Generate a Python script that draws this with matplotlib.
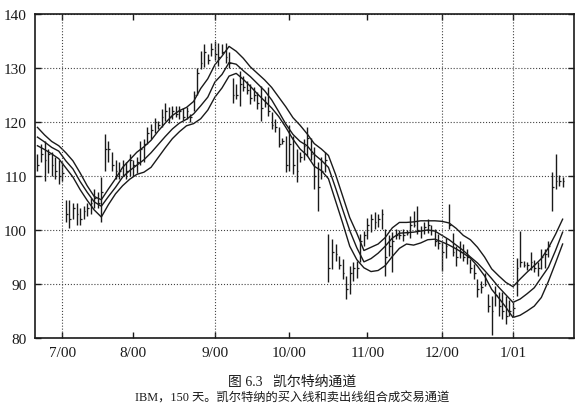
import matplotlib.pyplot as plt
import numpy as np

# daily bars, IBM, about 150 trading days
high = [114, 116, 116.5, 115, 114.5, 113.5, 113, 112.5,
        105.5, 105.5, 105, 105, 104, 104.5, 105, 106, 107.5, 107, 109.8,
        117.8, 116.5, 114.5, 113, 112.5, 113, 112.5, 114,
        113, 113.5, 116.5, 116.8, 119, 119.6, 120.8, 120.2, 122.4, 123.6, 122.7, 123, 123, 123, 122.5, 122.7, 121.5,
        125.8, 130, 133.2, 134.4, 132.6, 134.7, 135, 134.7, 134.4, 134.7, 132.9,
        128.2, 127, 129.5, 128.6, 127.6, 127, 126.4, 125.5, 126.7, 124.9, 126.4,
        121.8, 120.5, 119, 117.1, 117.4, 119.5, 117.4, 115, 114.4,
        116.8, 119, 117, 115.3, 112.5, 113.5, 114.4,
        99.3, 98.3, 97.4, 95.2, 94.6, 91.5, 93.4, 94, 94.3,
        99.3, 99.9, 102.3, 103, 103.3, 103, 103.9, 100.2, 99, 99.6,
        100.1, 100, 100.1, 100, 102.6, 103.5, 104.5, 100.8, 101.4, 102, 101, 100.1, 99.2,
        97.7, 98.6, 104.8, 99.5, 97.1, 98, 97.4, 96.4, 94.6, 93.7, 90.9, 90.6, 92.1,
        88.1, 87.8, 89.7, 88.5, 88.45, 87.8, 87, 86.6,
        94.9, 99.9, 94.3, 94, 95.9, 94.5, 94, 96.5, 96.5, 98,
        110.7, 114.1, 110.1, 109.75]
low = [111, 112.5, 109, 110.5, 110, 109.5, 108.5, 109,
       101.5, 100.3, 102, 101, 101, 102, 102.5, 103, 104, 104, 101.5,
       111, 112.5, 111, 109.5, 109.5, 110, 109.5, 110,
       110, 110.5, 112, 112.5, 115.9, 116.8, 118, 118.7, 119, 120.2, 119.9, 120.5, 120.9, 120.5, 120.3, 120.5, 120,
       122, 125, 129.8, 130.2, 130.7, 132.3, 131.5, 130.4, 132.5, 131, 130,
       123.6, 124.2, 123, 125.8, 125.2, 123.3, 123.9, 122.4, 120.2, 122.7, 121.2,
       118.7, 118.1, 115.3, 115.9, 110.7, 111, 110.3, 108.8, 112.5,
       113, 113.7, 113, 107.6, 103.6, 109.4, 110.7,
       90.3, 92.8, 94.3, 92.8, 90.9, 87.2, 88.1, 90.6, 91.2,
       94, 97.1, 98.3, 99.6, 100.2, 100.5, 100.2, 91.5, 95.2, 92.2,
       98.3, 98.3, 98, 99, 98.6, 100.5, 99.2, 98.6, 99.2, 99.5, 99, 97.1, 96.4,
       92.4, 94.9, 100.1, 95.2, 93.4, 94.9, 94.3, 93.7, 92.1, 90.9, 87.5, 88.4, 89.6,
       84.75, 80.5, 86, 84, 83.5, 82.6, 84, 83.8,
       87.8, 93.1, 93.1, 92.5, 92.5, 92.2, 91.55, 92.8, 93, 95,
       103.6, 107.6, 108.2, 107.9]
close = [112, 114, 113, 114, 112, 111, 110, 110.5,
         103, 102, 104, 103, 102, 103.5, 104, 105, 106, 105, 107,
         115, 115, 112, 111, 111, 112, 111, 113,
         112, 112.5, 115, 116, 118, 118.5, 120, 119.5, 121, 122, 121, 122, 121.5, 122, 121, 122, 121,
         125, 129, 131, 133, 131.5, 133.5, 132.5, 132, 133, 132, 131,
         125, 125, 127, 126.5, 126, 124.5, 125, 123.5, 122.5, 123.5, 122,
         119.5, 119, 116, 116.5, 112, 116, 112, 111, 113.5,
         115.5, 117, 114, 110, 108, 111, 113,
         93, 96, 95.5, 93.5, 92, 89, 92, 93, 93,
         98, 99, 101, 102, 101.5, 102, 103, 95, 97, 98,
         99, 99, 99, 99.5, 101, 101, 100, 100, 100.5, 101, 100, 98, 97.5,
         96, 97, 101, 96, 95, 96, 95, 95, 93, 92, 89, 89.5, 91,
         86, 85, 88, 86, 85, 84, 85, 85.5,
         93, 94, 93.5, 93.5, 94, 93, 93, 95, 95.5, 97,
         108, 109, 109, 109]

# Keltner channel, read every second bar
upper = [119.0, 117.6, 116.4, 115.6, 114.3, 112.8, 110.6, 108.2, 106.2, 105.6,
         107.6, 109.5, 111.6, 113.0, 114.4, 115.4, 116.6, 118.3, 119.8, 121.2,
         122.1, 122.7, 123.8, 126.2, 128.0, 130.6, 132.2, 134.0, 133.1, 131.8,
         130.2, 129.0, 127.8, 126.4, 124.6, 122.8, 120.8, 119.4, 117.8, 116.0,
         115.0, 113.8, 110.3, 106.3, 102.3, 99.4, 96.2, 96.8, 97.4, 98.6,
         100.4, 101.4, 101.4, 101.5, 101.7, 101.7, 101.7, 101.6, 101.3, 100.3,
         99.0, 98.2, 96.8, 95.0, 92.8, 91.5, 90.3, 89.5, 90.9, 92.2,
         93.4, 94.7, 96.7, 99.2, 102.0]
middle = [117.2, 116.3, 115.3, 114.6, 112.8, 111.3, 109.0, 107.0, 105.2, 104.4,
          106.2, 107.9, 109.8, 111.0, 112.0, 113.0, 114.3, 115.8, 117.3, 118.7,
          119.8, 120.5, 121.5, 123.0, 124.6, 127.4, 128.8, 131.0, 130.7, 129.5,
          128.4, 127.1, 125.8, 124.1, 121.9, 119.6, 117.7, 116.4, 115.6, 114.0,
          112.9, 111.6, 107.8, 103.8, 99.9, 96.7, 94.1, 94.7, 95.7, 97.0,
          98.5, 99.4, 99.5, 99.6, 99.8, 100.0, 99.8, 99.0, 98.2, 97.2,
          96.2, 95.0, 93.9, 92.5, 91.0, 89.4, 88.0, 86.6, 87.2, 88.2,
          89.3, 91.2, 93.1, 96.2, 99.6]
lower = [115.6, 114.9, 114.1, 113.2, 111.5, 109.8, 107.5, 105.5, 103.7, 102.4,
         104.7, 106.7, 108.2, 109.4, 110.3, 110.7, 111.6, 113.4, 115.2, 116.9,
         118.2, 119.3, 119.7, 120.6, 122.2, 124.6, 126.3, 128.5, 129.0, 127.9,
         126.6, 125.2, 123.9, 122.6, 121.0, 119.0, 116.8, 115.0, 113.8, 111.8,
         111.0, 109.5, 105.4, 101.3, 97.0, 94.5, 93.0, 92.3, 92.5, 93.4,
         95.1, 96.6, 97.4, 97.2, 97.6, 98.2, 98.3, 97.8, 97.2, 96.5,
         95.7, 94.8, 93.3, 91.5, 89.0, 87.4, 85.7, 83.8, 84.2, 85.0,
         85.9, 87.5, 90.5, 93.9, 97.4]

month_labels = ["7/00", "8/00", "9/00", "10/00", "11/00", "12/00", "1/01"]
month_day = [7, 27, 50, 71, 93, 114, 134]
month_grid = [True, False, True, False, False, True, True]

SERIF = ["Liberation Serif", "Noto Sans CJK SC"]
INK = "#1a1a1a"

fig = plt.figure(figsize=(5.86, 4.14), dpi=100)
fig.patch.set_facecolor("white")
ax = fig.add_axes([0.0597, 0.1812, 0.9198, 0.7826])

day = np.arange(len(high))
ax.vlines(day, low, high, color=INK, lw=1.0)
ax.hlines(close, day, day + 0.5, color=INK, lw=0.9)

chan_day = day[::2]
for band in (upper, middle, lower):
    ax.plot(chan_day, band, color=INK, lw=1.0)

ax.set_xlim(-0.7, 151.2)
ax.set_ylim(80, 140)
ax.set_yticks(range(80, 141, 10))
ax.yaxis.grid(True, ls=":", color="#444", lw=0.8)
for d, g in zip(month_day, month_grid):
    if g:
        ax.axvline(d, ls=":", color="#444", lw=0.8)
ax.set_xticks(month_day)
ax.set_xticklabels(month_labels)
ax.tick_params(direction="in", top=True, right=True, length=4, width=1, pad=6,
               labelsize=11, colors=INK)
for lab in ax.get_xticklabels() + ax.get_yticklabels():
    lab.set_family(SERIF)
for s in ax.spines.values():
    s.set_linewidth(1.2)
    s.set_color(INK)

fig.text(0.498, 1 - 382 / 414, "图 6.3   凯尔特纳通道", ha="center", va="center",
         fontsize=10, family=SERIF, color=INK)
fig.text(0.498, 1 - 398 / 414, "IBM，150 天。凯尔特纳的买入线和卖出线组合成交易通道",
         ha="center", va="center", fontsize=8.8, family=SERIF, color=INK)

fig.savefig("out.png", dpi=100, facecolor="white")
